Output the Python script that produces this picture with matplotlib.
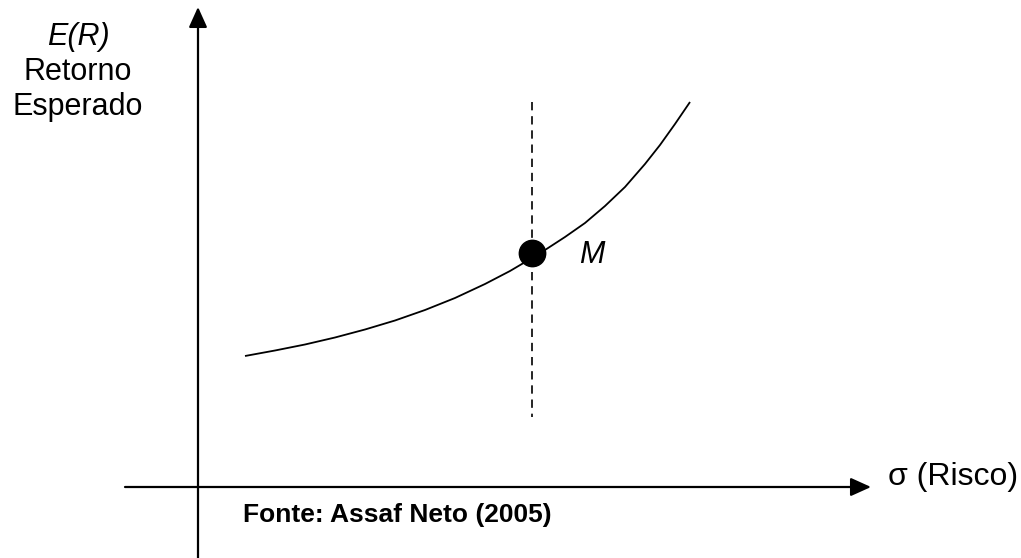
import matplotlib
matplotlib.use("Agg")
import matplotlib.pyplot as plt

plt.rcParams["font.family"] = ["Liberation Sans", "DejaVu Sans"]

# frontier curve (pixel-like units, y grows downward)
curve_x = [245, 275, 305, 335, 365, 395, 425, 455, 485, 510, 532, 545,
           565, 585, 605, 625, 645, 660, 675, 690]
curve_y = [356, 350.5, 344.5, 337.5, 329.5, 320.5, 310, 298, 284, 271, 258, 250,
           237, 223, 206, 187, 164, 145, 124, 102]

# market portfolio M and its vertical guide
point_m = (532, 253)
guide_top = 102
guide_bottom = 417

# axes origin and extent
axis_x = 198
axis_y = 487
x_axis_start, x_axis_end = 125, 871
y_axis_start, y_axis_end = 558, 7

y_label_lines = ["E(R)", "Retorno", "Esperado"]
x_label = "σ (Risco)"
source_note = "Fonte: Assaf Neto (2005)"

fig = plt.figure(figsize=(10.21, 5.58), dpi=100, facecolor="white")
ax = fig.add_axes([0, 0, 1, 1])
ax.set_xlim(0, 1021)
ax.set_ylim(558, 0)
ax.axis("off")

arrow = dict(arrowstyle="-|>,head_length=0.62,head_width=0.28", lw=1.6,
             color="black", shrinkA=0, shrinkB=0, mutation_scale=20)
ax.annotate("", xy=(x_axis_end, axis_y), xytext=(x_axis_start, axis_y), arrowprops=arrow)
ax.annotate("", xy=(axis_x, y_axis_end), xytext=(axis_x, y_axis_start), arrowprops=arrow)

ax.plot(curve_x, curve_y, color="black", lw=1.3, solid_joinstyle="round",
        solid_capstyle="butt")
ax.plot([point_m[0], point_m[0]], [guide_top, guide_bottom], color="black",
        lw=1.2, linestyle=(0, (5, 3.5)))
ax.plot(*point_m, "o", color="black", markersize=19, zorder=5)

ax.text(579, 263, "M", fontsize=22, style="italic", ha="left", va="baseline")

label_baselines = [45, 80, 115]
for line, yb in zip(y_label_lines, label_baselines):
    ax.text(78, yb, line, fontsize=22, ha="center", va="baseline",
            style="italic" if line == "E(R)" else "normal")

ax.text(888, 485, x_label, fontsize=23, ha="left", va="baseline")
ax.text(243, 522, source_note, fontsize=19, fontweight="bold", ha="left", va="baseline")

fig.savefig("out.png", dpi=100, facecolor="white")
